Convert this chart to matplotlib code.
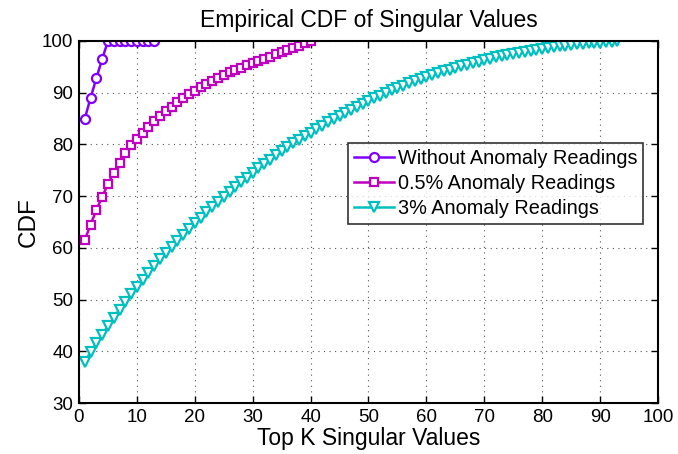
import matplotlib
matplotlib.use('Agg')
import matplotlib.pyplot as plt

plt.rcParams['font.family'] = ['Liberation Sans', 'DejaVu Sans']

# ── Données ────────────────────────────────────────────────────────
k_sans = list(range(1, 14))
cdf_sans = [85.0, 89.0, 92.8, 96.5, 100, 100, 100, 100, 100, 100, 100, 100, 100]

k_05 = list(range(1, 41))
cdf_05 = [61.5, 64.5, 67.3, 69.9, 72.3, 74.5, 76.5, 78.3, 79.8, 81.1,
          82.3, 83.4, 84.45, 85.45, 86.4, 87.3, 88.15, 88.95, 89.7, 90.4,
          91.08, 91.72, 92.32, 92.89, 93.43, 93.94, 94.42, 94.87, 95.29, 95.69,
          96.1, 96.5, 96.95, 97.4, 97.8, 98.25, 98.7, 99.1, 99.55, 100.0]

k_3 = list(range(1, 94))
cdf_3 = [38.0, 39.78, 41.52, 43.22, 44.88, 46.50, 48.08, 49.60, 51.08, 52.50,
         53.88, 55.22, 56.52, 57.79, 59.03, 60.24, 61.42, 62.57, 63.70, 64.80,
         65.87, 66.91, 67.92, 68.91, 69.88, 70.83, 71.76, 72.69, 73.60, 74.50,
         75.38, 76.24, 77.08, 77.89, 78.68, 79.45, 80.20, 80.92, 81.62, 82.30,
         82.98, 83.64, 84.28, 84.91, 85.52, 86.12, 86.71, 87.28, 87.84, 88.40,
         88.94, 89.46, 89.96, 90.44, 90.91, 91.36, 91.79, 92.21, 92.61, 93.00,
         93.38, 93.75, 94.11, 94.46, 94.80, 95.13, 95.45, 95.75, 96.03, 96.30,
         96.56, 96.81, 97.05, 97.28, 97.50, 97.72, 97.93, 98.13, 98.32, 98.50,
         98.67, 98.83, 98.98, 99.12, 99.25, 99.37, 99.48, 99.56, 99.63, 99.70,
         99.80, 99.90, 100.0]

x_ticks = list(range(0, 101, 10))
y_ticks = list(range(30, 101, 10))

# ── Figure ─────────────────────────────────────────────────────────
fig = plt.figure(figsize=(6.78, 4.54), dpi=100)
ax = fig.add_axes([0.1165, 0.1123, 0.854, 0.7974])

ax.plot(k_sans, cdf_sans, color='#8000FF', lw=1.8, marker='o', ms=6.5,
        mfc='white', mew=1.6, label='Without Anomaly Readings')
ax.plot(k_05, cdf_05, color='#BF00BF', lw=1.8, marker='s', ms=6,
        mfc='white', mew=1.6, label='0.5% Anomaly Readings')
ax.plot(k_3, cdf_3, color='#00BFBF', lw=1.8, marker='v', ms=7,
        mfc='white', mew=1.6, label='3% Anomaly Readings')

ax.set_xlim(0, 100)
ax.set_ylim(30, 100)
ax.set_xticks(x_ticks)
ax.set_yticks(y_ticks)
ax.tick_params(direction='in', top=True, right=True, labelsize=13.5,
               length=5, width=1)
ax.tick_params(axis='x', pad=4)
ax.tick_params(axis='y', pad=4)
for s in ax.spines.values():
    s.set_linewidth(1.5)
ax.grid(True, color='#555555', linestyle=(0, (1, 4)), linewidth=0.8)

ax.set_title('Empirical CDF of Singular Values', fontsize=16.5, pad=10)
ax.set_xlabel('Top K Singular Values', fontsize=16.5, labelpad=1)
ax.set_ylabel('CDF', fontsize=17.5, labelpad=2)

leg = ax.legend(loc='upper left', bbox_to_anchor=(0.4646, 0.718),
                fontsize=14.3, frameon=True, fancybox=False,
                handlelength=2.0, handletextpad=0.2, borderpad=0.3,
                labelspacing=0.3, borderaxespad=0)
leg.get_frame().set_edgecolor('black')
leg.get_frame().set_linewidth(1.2)

fig.savefig('out.png', dpi=100)
